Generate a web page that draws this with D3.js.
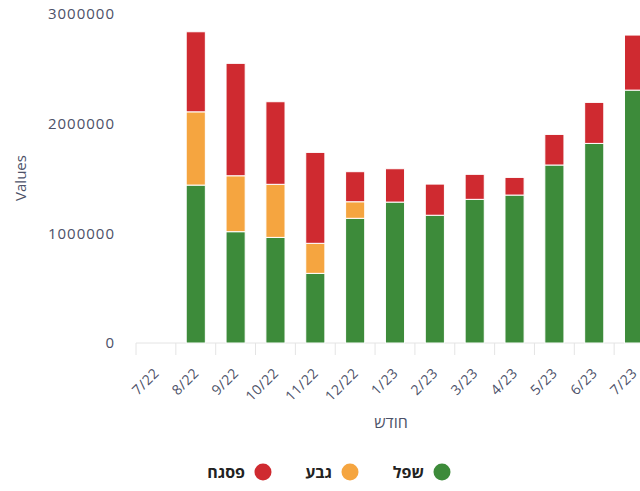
<!DOCTYPE html>
<html>
<head>
<meta charset="utf-8">
<script src="https://cdn.jsdelivr.net/npm/d3@7"></script>
<style>
  body { margin: 0; background: #fff; overflow: hidden; }
  svg text { font-family: "Open Sans", sans-serif; }
</style>
</head>
<body>
<div id="canvas"></div>
<script>
const months = ["7/22", "8/22", "9/22", "10/22", "11/22", "12/22", "1/23", "2/23", "3/23", "4/23", "5/23", "6/23", "7/23"];
const shefel = [0, 1440000, 1015000, 963000, 635000, 1137000, 1285000, 1165000, 1310000, 1349000, 1623000, 1820000, 2306000];
const geva = [0, 668000, 510000, 484000, 274000, 151000, 0, 0, 0, 0, 0, 0, 0];
const pisga = [0, 730000, 1025000, 753000, 829000, 274000, 304000, 284000, 228000, 161000, 279000, 374000, 502000];
const yTicks = [0, 1000000, 2000000, 3000000];

const seriesNames = ["שפל", "גבע", "פסגח"];
const colors = ["#3d8b3a", "#f5a540", "#cf2a30"];

const width = 640, height = 491;

const svg = d3.select("#canvas")
    .append("svg")
    .attr("width", width)
    .attr("height", height);

// table for the stack
const table = months.map((m, i) => ({ month: m, "שפל": shefel[i], "גבע": geva[i], "פסגח": pisga[i] }));
const stacked = d3.stack().keys(seriesNames)(table);

const x = d3.scaleBand()
    .domain(months)
    .range([136, 654])
    .paddingInner(0.52)
    .paddingOuter(0.26);

const y = d3.scaleLinear()
    .domain([0, 3000000])
    .range([343, 14]);

// x axis
const xAxis = svg.append("g")
    .attr("transform", "translate(0,343)");
xAxis.append("line")
    .attr("x1", 136).attr("x2", 654)
    .attr("stroke", "#e4e4e4");
const step = x.step();
months.forEach((m, i) => {
    const edge = 136 + i * step;
    xAxis.append("line")
        .attr("x1", edge).attr("x2", edge)
        .attr("y1", 0).attr("y2", 12)
        .attr("stroke", "#e4e4e4");
});
xAxis.selectAll("text.tick")
    .data(months)
    .join("text")
    .attr("class", "tick")
    .attr("transform", d => `translate(${x(d) + x.bandwidth() / 2 + 4},${31}) rotate(-45)`)
    .attr("text-anchor", "end")
    .attr("font-size", 14)
    .attr("letter-spacing", 0.5)
    .attr("fill", "#4c5168")
    .text(d => d);

// y axis labels
svg.append("g")
    .selectAll("text")
    .data(yTicks)
    .join("text")
    .attr("x", 115)
    .attr("y", d => y(d))
    .attr("dy", "0.35em")
    .attr("text-anchor", "end")
    .attr("font-size", 15)
    .attr("letter-spacing", 1)
    .attr("fill", "#4c5168")
    .text(d => d);

svg.append("text")
    .attr("transform", "translate(26,178) rotate(-90)")
    .attr("text-anchor", "middle")
    .attr("font-size", 15)
    .attr("fill", "#4c5168")
    .text("Values");

svg.append("text")
    .attr("x", 391)
    .attr("y", 428)
    .attr("text-anchor", "middle")
    .attr("font-size", 16)
    .attr("fill", "#4c5168")
    .text("חודש");

// bars
stacked.forEach((s, k) => {
    svg.append("g")
        .selectAll("rect")
        .data(s)
        .join("rect")
        .attr("x", d => x(d.data.month))
        .attr("y", d => y(d[1]))
        .attr("width", x.bandwidth())
        .attr("height", d => Math.max(0, y(d[0]) - y(d[1])))
        .attr("fill", colors[k])
        .attr("stroke", "#fff")
        .attr("stroke-width", d => d[1] > d[0] ? 1 : 0);
});

// legend (right to left)
const legendX = [442, 350, 263];
const legend = svg.append("g");
seriesNames.forEach((name, k) => {
    legend.append("circle")
        .attr("cx", legendX[k])
        .attr("cy", 472)
        .attr("r", 8.5)
        .attr("fill", colors[k]);
    legend.append("text")
        .attr("x", legendX[k] - 18)
        .attr("y", 472)
        .attr("dy", "0.35em")
        .attr("text-anchor", "end")
        .attr("font-size", 16)
        .attr("font-weight", "bold")
        .attr("fill", "#222")
        .text(name);
});
</script>
</body>
</html>
